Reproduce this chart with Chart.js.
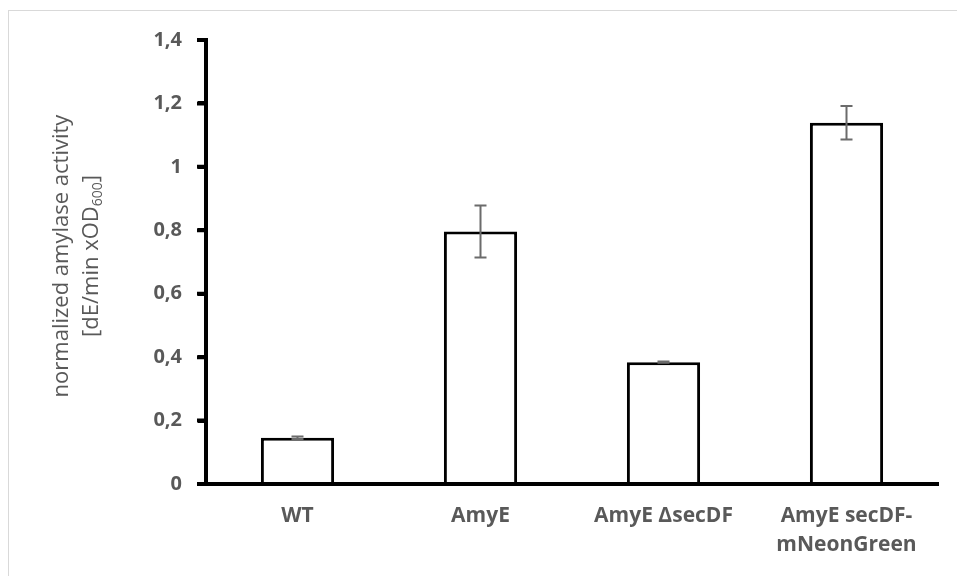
<!DOCTYPE html>
<html>
<head>
<meta charset="utf-8">
<script src="https://cdn.jsdelivr.net/npm/chart.js@4/dist/chart.umd.min.js"></script>
<style>
  html, body { margin: 0; padding: 0; background: #fff; }
  #wrap { position: relative; width: 957px; height: 576px; }
  #frame { position: absolute; left: 8px; top: 10px; right: -2px; bottom: -2px;
           border: 1px solid #d9d9d9; pointer-events: none; }
</style>
</head>
<body>
<div id="wrap">
  <canvas id="chart" width="957" height="576"></canvas>
  <div id="frame"></div>
</div>
<script>
// -------- Data ----------
const categories = ["WT", "AmyE", "AmyE \u0394secDF", ["AmyE secDF-", "mNeonGreen"]];
const activity = [0.146, 0.796, 0.384, 1.139];
const errors = [0.004, 0.082, 0.002, 0.053];
const yTicks = [0, 0.2, 0.4, 0.6, 0.8, 1, 1.2, 1.4];

const FONT = "'Open Sans', sans-serif";
const GREY = "#595959";

// comma decimals, like the original
function fmt(v) {
  return String(Math.round(v * 10) / 10).replace(".", ",");
}

// error bars through the scales
const errorBars = {
  id: "errorBars",
  afterDatasetsDraw(chart) {
    const ctx = chart.ctx;
    const meta = chart.getDatasetMeta(0);
    const y = chart.scales.y;
    ctx.save();
    ctx.strokeStyle = "#6b6b6b";
    ctx.lineWidth = 2;
    meta.data.forEach((bar, i) => {
      const top = y.getPixelForValue(activity[i] + errors[i]);
      const bot = y.getPixelForValue(activity[i] - errors[i]);
      ctx.beginPath();
      ctx.moveTo(bar.x, top); ctx.lineTo(bar.x, bot);
      ctx.moveTo(bar.x - 6, top); ctx.lineTo(bar.x + 6, top);
      ctx.moveTo(bar.x - 6, bot); ctx.lineTo(bar.x + 6, bot);
      ctx.stroke();
    });
    ctx.restore();
  }
};

// outward tick stubs on the y axis
const yStubs = {
  id: "yStubs",
  afterDraw(chart) {
    const ctx = chart.ctx;
    const y = chart.scales.y;
    const x0 = chart.chartArea.left;
    ctx.save();
    ctx.strokeStyle = "#000";
    ctx.lineWidth = 4;
    ctx.beginPath();
    yTicks.forEach(v => {
      const py = y.getPixelForValue(v);
      ctx.moveTo(x0 - 9, py); ctx.lineTo(x0, py);
    });
    ctx.stroke();
    ctx.restore();
  }
};

// rotated y title with subscript
const yTitle = {
  id: "yTitle",
  afterDraw(chart) {
    const ctx = chart.ctx;
    ctx.save();
    ctx.fillStyle = GREY;
    ctx.translate(62, 256);
    ctx.rotate(-Math.PI / 2);
    ctx.textBaseline = "middle";
    ctx.textAlign = "center";
    ctx.font = `22px ${FONT}`;
    ctx.fillText("normalized amylase activity", 0, 0);
    // second line
    const a = "[dE/min xOD", sub = "600", b = "]";
    const wa = ctx.measureText(a).width, wb = ctx.measureText(b).width;
    ctx.font = `14px ${FONT}`;
    const ws = ctx.measureText(sub).width;
    let x = -(wa + ws + wb) / 2;
    ctx.textAlign = "left";
    ctx.translate(0, 30);
    ctx.font = `22px ${FONT}`;
    ctx.fillText(a, x, 0); x += wa;
    ctx.font = `14px ${FONT}`;
    ctx.fillText(sub, x, 6); x += ws;
    ctx.font = `22px ${FONT}`;
    ctx.fillText(b, x, 0);
    ctx.restore();
  }
};

new Chart(document.getElementById("chart"), {
  type: "bar",
  data: {
    labels: categories,
    datasets: [{
      data: activity,
      backgroundColor: "#ffffff",
      borderColor: "#000000",
      borderWidth: 3,
      categoryPercentage: 1,
      barPercentage: 0.4
    }]
  },
  options: {
    responsive: false,
    animation: false,
    layout: { padding: { top: 40, right: 19, left: 0, bottom: 0 } },
    plugins: { legend: { display: false }, tooltip: { enabled: false } },
    scales: {
      x: {
        grid: { display: false, drawTicks: false },
        border: { display: true, color: "#000", width: 4 },
        ticks: {
          color: GREY, padding: 18,
          font: { family: FONT, size: 21, weight: "bold", lineHeight: 1.35 }
        },
        afterFit(s) { s.height = 92; }
      },
      y: {
        min: 0, max: 1.4,
        afterBuildTicks(s) { s.ticks = yTicks.map(v => ({ value: v })); },
        grid: { drawOnChartArea: false, tickLength: 8, color: "#000", lineWidth: 4 },
        border: { color: "#000", width: 4 },
        ticks: {
          color: GREY, padding: 16,
          font: { family: FONT, size: 20, weight: "bold" },
          callback: (v) => fmt(v)
        },
        afterFit(s) { s.width = 206; }
      }
    }
  },
  plugins: [errorBars, yStubs, yTitle]
});
</script>
</body>
</html>
